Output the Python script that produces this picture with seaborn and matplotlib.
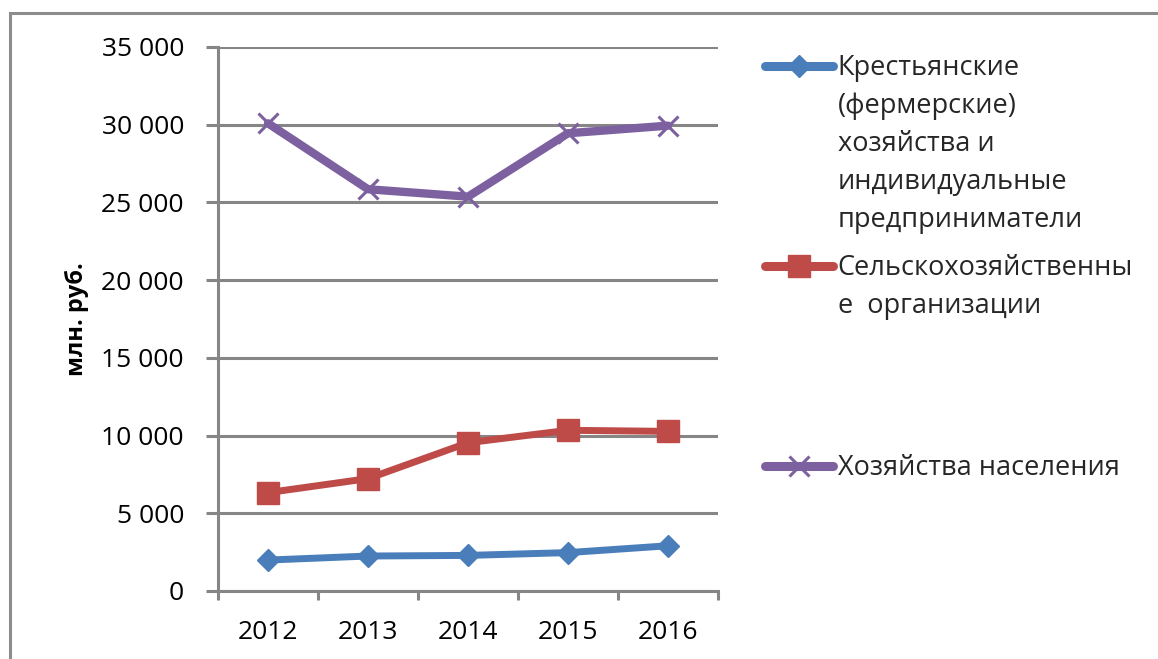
import matplotlib
matplotlib.use("Agg")
import matplotlib.pyplot as plt
from matplotlib.lines import Line2D
from matplotlib.patches import Rectangle
from matplotlib.ticker import FuncFormatter
import pandas as pd
import seaborn as sns

# Production by farm category, million roubles
years = [2012, 2013, 2014, 2015, 2016]
farm_values = [1990, 2250, 2290, 2470, 2910]
org_values = [6330, 7230, 9540, 10340, 10270]
household_values = [30090, 25850, 25370, 29450, 29940]

farm_label = ["Крестьянские", "(фермерские)", "хозяйства и",
              "индивидуальные", "предприниматели"]
org_label = ["Сельскохозяйственны", "е  организации"]
household_label = ["Хозяйства населения"]
y_ticks = [0, 5000, 10000, 15000, 20000, 25000, 30000, 35000]
y_title = "млн. руб."

BLUE = "#4A7EBB"
RED = "#BE4B48"
PURPLE = "#7D60A0"
GRID = "#868686"

W, H = 1158, 659

sns.set_theme(style="white")
plt.rcParams["font.family"] = ["Open Sans", "DejaVu Sans"]

fig = plt.figure(figsize=(W / 100, H / 100), dpi=100)
ax = fig.add_axes([218 / W, 1 - 591 / H, 500 / W, 544 / H])

df = pd.DataFrame({
    "year": years * 3,
    "value": farm_values + org_values + household_values,
    "series": ["farm"] * 5 + ["org"] * 5 + ["household"] * 5,
})

styles = {
    "farm": dict(color=BLUE, marker="D", markersize=11.2, linewidth=5.0,
                 markeredgewidth=1, markeredgecolor=BLUE),
    "org": dict(color=RED, marker="s", markersize=16.5, linewidth=5.0,
                markeredgewidth=1, markeredgecolor=RED),
    "household": dict(color=PURPLE, marker="x", markersize=15, linewidth=6.0,
                      markeredgewidth=2.2, markeredgecolor=PURPLE),
}

for name in ["farm", "org", "household"]:
    sub = df[df["series"] == name]
    sns.lineplot(data=sub, x="year", y="value", ax=ax, legend=False,
                 sort=False, **styles[name])

# axes styling
ax.set_ylim(0, 35000)
ax.set_xlim(2011.5, 2016.5)
ax.set_yticks(y_ticks)
ax.yaxis.set_major_formatter(FuncFormatter(lambda v, _: f"{int(v):,}".replace(",", " ")))
ax.yaxis.grid(True, color=GRID, linewidth=2.2)
ax.xaxis.grid(False)
ax.set_axisbelow(True)
for side in ["top", "right"]:
    ax.spines[side].set_visible(False)
for side in ["left", "bottom"]:
    ax.spines[side].set_color(GRID)
    ax.spines[side].set_linewidth(2.2)

ax.set_xticks([2011.5 + i for i in range(6)])
ax.set_xticks(years, minor=True)
ax.set_xticklabels([])
ax.set_xticklabels([str(y) for y in years], minor=True)
ax.tick_params(axis="x", which="major", length=6.5, width=2.2, color=GRID,
               direction="out", bottom=True)
ax.tick_params(axis="x", which="minor", length=0, pad=21, labelsize=19,
               labelcolor="black")
ax.tick_params(axis="y", length=9, width=2.2, color=GRID, direction="out",
               left=True, pad=15.5, labelsize=19, labelcolor="black")
ax.set_xlabel("")
ax.set_ylabel(y_title, fontsize=17, fontweight="bold", labelpad=9, color="black")

# legend blocks, one per series, handle on the first text line
def legend_block(style, lines, top_px):
    handle = Line2D([], [], solid_capstyle="round", **style)
    blanks = [Line2D([], [], linestyle="none")] * (len(lines) - 1)
    leg = fig.legend([handle] + blanks, lines, loc="upper left",
                     bbox_to_anchor=(765 / W, 1 - top_px / H),
                     frameon=False, fontsize=19.5, handlelength=2.5,
                     handletextpad=0.18, labelspacing=0.365, borderpad=0,
                     borderaxespad=0, numpoints=1)
    return leg

legend_block(dict(styles["farm"], linewidth=6.5), farm_label, 54)
legend_block(dict(styles["org"], linewidth=6.5), org_label, 254)
legend_block(dict(styles["household"], linewidth=6.5), household_label, 454)

# outer chart frame
fig.add_artist(Rectangle((10 / W, -0.5), 2, (1 - 13 / H) + 0.5,
                         transform=fig.transFigure, fill=False,
                         edgecolor="#8C8C8C", linewidth=2.2))

fig.savefig("out.png", dpi=100)
